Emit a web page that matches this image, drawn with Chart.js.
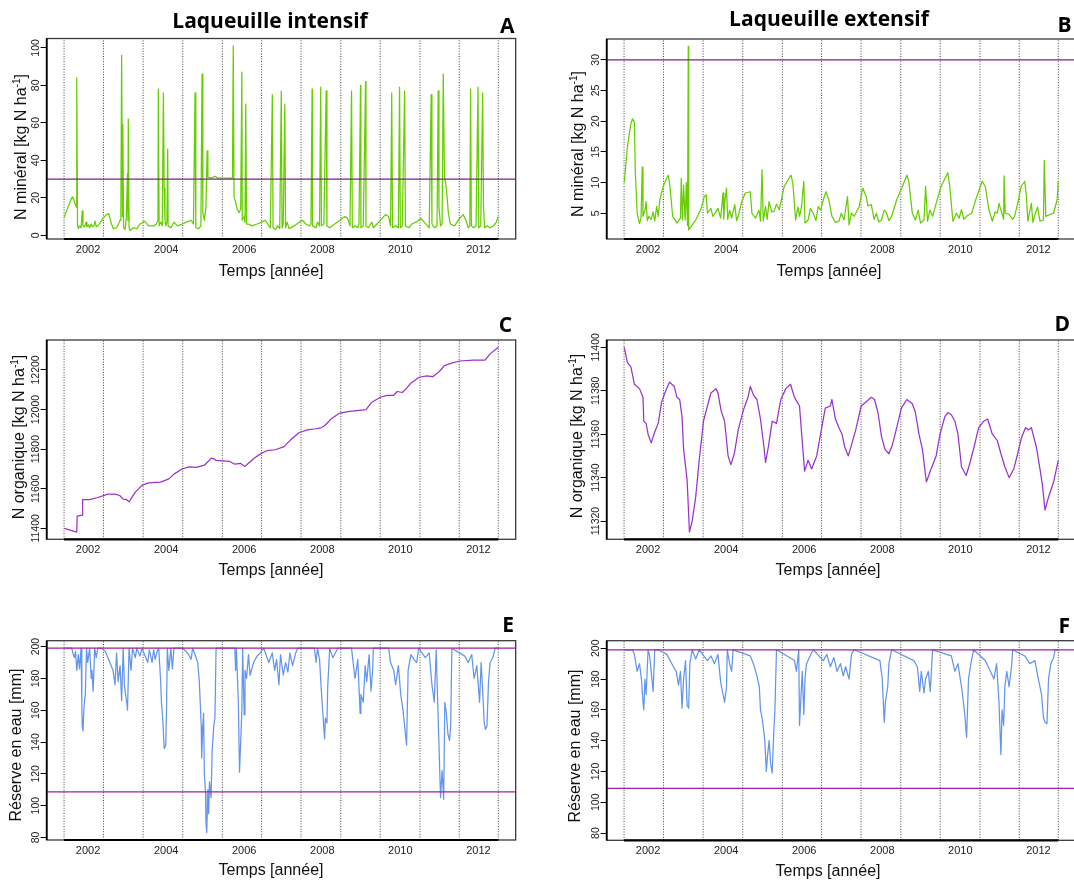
<!DOCTYPE html>
<html lang="fr">
<head>
<meta charset="utf-8">
<title>Laqueuille intensif / extensif</title>
<script src="https://cdn.jsdelivr.net/npm/chart.js@4.4.1/dist/chart.umd.min.js"></script>
<style>
  html, body { margin: 0; padding: 0; background: #fff; }
  body { width: 1074px; height: 881px; overflow: hidden; position: relative; font-family: "Liberation Sans", Arial, sans-serif; }
  canvas { position: absolute; }
  .main { position: absolute; white-space: nowrap; line-height: 1; font-family: "Open Sans", Lato, sans-serif; font-weight: bold; font-size: 21px; color: #000; transform: translate(-50%, -50%); }
  .letter { position: absolute; white-space: nowrap; line-height: 1; font-family: "Open Sans", Lato, sans-serif; font-weight: bold; font-size: 21px; color: #000; transform: translate(-100%, -50%); }
  .xt { position: absolute; white-space: nowrap; line-height: 1; font-size: 16px; color: #111; transform: translate(-50%, -50%); }
  .yt { position: absolute; white-space: nowrap; line-height: 1; font-size: 16px; color: #111; transform: translate(-50%, -50%) rotate(-90deg); }
  sup { font-size: 10px; line-height: 0; vertical-align: 6px; }
</style>
</head>
<body>
<canvas id="cA"></canvas>
<canvas id="cB"></canvas>
<canvas id="cC"></canvas>
<canvas id="cD"></canvas>
<canvas id="cE"></canvas>
<canvas id="cF"></canvas>

<div class="main" style="left:270px;top:19.6px">Laqueuille intensif</div>
<div class="main" style="left:829px;top:17.5px">Laqueuille extensif</div>
<div class="letter" style="left:514.5px;top:25.2px">A</div>
<div class="letter" style="left:1071.7px;top:23.6px">B</div>
<div class="letter" style="left:512.2px;top:323.6px">C</div>
<div class="letter" style="left:1070px;top:323.2px">D</div>
<div class="letter" style="left:513.9px;top:624.4px">E</div>
<div class="letter" style="left:1070px;top:625px">F</div>

<div class="xt" style="left:271px;top:271px">Temps [année]</div>
<div class="xt" style="left:829px;top:271px">Temps [année]</div>
<div class="xt" style="left:271px;top:570px">Temps [année]</div>
<div class="xt" style="left:828px;top:569.5px">Temps [année]</div>
<div class="xt" style="left:271px;top:870px">Temps [année]</div>
<div class="xt" style="left:828px;top:870.5px">Temps [année]</div>

<div class="yt" style="left:21px;top:147px">N minéral [kg N ha<sup>-1</sup>]</div>
<div class="yt" style="left:578.3px;top:144px">N minéral [kg N ha<sup>-1</sup>]</div>
<div class="yt" style="left:18.6px;top:437px">N organique [kg N ha<sup>-1</sup>]</div>
<div class="yt" style="left:577px;top:436px">N organique [kg N ha<sup>-1</sup>]</div>
<div class="yt" style="left:16.1px;top:744.5px">Réserve en eau [mm]</div>
<div class="yt" style="left:575px;top:746px">Réserve en eau [mm]</div>

<script>
// ---------------- DATA (decimal years / values) ----------------
const seasonLines = [2001.385, 2002.395, 2003.41, 2004.425, 2005.44, 2006.445, 2007.455, 2008.475, 2009.485, 2010.505, 2011.51, 2012.51];
const yearTicks = [2002, 2004, 2006, 2008, 2010, 2012];

const minTicksIntensif = [0, 20, 40, 60, 80, 100];
const minTicksExtensif = [5, 10, 15, 20, 25, 30];
const orgTicksIntensif = [11400, 11600, 11800, 12000, 12200];
const orgTicksExtensif = [11320, 11340, 11360, 11380, 11400];
const waterTicks = [80, 100, 120, 140, 160, 180, 200];

const minThreshold = [30];
const waterThresholdsIntensif = [199, 108.6];
const waterThresholdsExtensif = [199, 109];

// A : N minéral, Laqueuille intensif
const minIntensifYears = [
  2001.39,2001.47,2001.56,2001.60,2001.65,2001.68,2001.70,2001.71,2001.73,2001.75,
  2001.78,2001.82,2001.85,2001.87,2001.91,2001.95,2001.97,2002.01,2002.04,2002.08,
  2002.11,2002.15,2002.18,2002.21,2002.25,2002.32,2002.38,2002.47,2002.53,2002.60,
  2002.65,2002.73,2002.79,2002.82,2002.84,2002.86,2002.88,2002.89,2002.91,2002.95,
  2002.98,2003.01,2003.02,2003.03,2003.05,2003.08,2003.16,2003.25,2003.33,2003.45,
  2003.55,2003.68,2003.75,2003.79,2003.80,2003.82,2003.86,2003.90,2003.93,2003.95,
  2003.97,2003.99,2004.02,2004.04,2004.05,2004.12,2004.20,2004.29,2004.42,2004.52,
  2004.64,2004.70,2004.74,2004.76,2004.83,2004.89,2004.92,2004.94,2004.98,2005.02,
  2005.05,2005.07,2005.16,2005.25,2005.33,2005.46,2005.59,2005.70,2005.72,2005.74,
  2005.78,2005.82,2005.87,2005.91,2005.94,2005.95,2006.00,2006.02,2006.04,2006.06,
  2006.11,2006.20,2006.33,2006.45,2006.54,2006.63,2006.67,2006.72,2006.74,2006.80,
  2006.86,2006.91,2006.95,2006.97,2007.00,2007.04,2007.06,2007.10,2007.15,2007.28,
  2007.41,2007.49,2007.58,2007.67,2007.71,2007.74,2007.75,2007.84,2007.88,2007.93,
  2007.96,2007.98,2008.04,2008.10,2008.12,2008.19,2008.32,2008.45,2008.58,2008.65,
  2008.71,2008.75,2008.77,2008.84,2008.91,2008.94,2008.98,2008.99,2009.05,2009.11,
  2009.12,2009.18,2009.27,2009.31,2009.40,2009.49,2009.62,2009.70,2009.75,2009.78,
  2009.80,2009.88,2009.95,2009.98,2010.00,2010.05,2010.11,2010.13,2010.22,2010.29,
  2010.40,2010.53,2010.61,2010.70,2010.74,2010.79,2010.81,2010.87,2010.94,2010.97,
  2010.99,2011.03,2011.07,2011.10,2011.13,2011.18,2011.23,2011.28,2011.39,2011.52,
  2011.61,2011.68,2011.74,2011.78,2011.80,2011.82,2011.87,2011.94,2011.99,2012.01,
  2012.06,2012.11,2012.13,2012.16,2012.22,2012.30,2012.39,2012.46,2012.51
];
const minIntensif = [
  9.8,14,19,20.5,18,16,15,84,5,3.5,
  5,4,13,5,4.5,7,4.5,5.5,4,6,
  4.5,5,7.5,4.5,5,7,9,11,11.5,6,
  3.5,4,6.5,8,14,96,10,59,4,3,
  10,33,8,62,4,2.5,4,3.5,6,7.5,
  5,5,6,8,78,5,7,5,76,25,
  8,5,7,46,5,4,7,5,6,7,
  8,6,76,4,3.5,5,86,12,8,15,
  45,31,30.5,31.5,30.5,30.5,30.5,30.5,101,20,
  18,14,12,14,87,8,10,7,70,6,
  6,5,6,7,8,5,4,75,4,3,
  5,3.5,77,4,6,70,4,7,3.5,5,
  7,8,6,5,6,78,5,4,7,5,
  79,5,6,77,5,4,6,8,10,9,
  5,77,4,5,4,6,80,4,5,82,
  5,4,7,4,6,8,11,10,5,76,
  4,5,4,79,4,5,77,5,4,6,
  7,9,7,5,4,75,6,4,5,77,
  15,5,6,86,32,25,12,6,5,9,
  11,8,4,5,78,5,4,5,79,4,
  5,76,15,4,5,4,5,7,10
];

// B : N minéral, Laqueuille extensif
const minExtensifYears = [
  2001.39,2001.47,2001.56,2001.60,2001.65,2001.67,2001.72,2001.78,2001.82,2001.85,
  2001.87,2001.92,2001.95,2001.98,2002.02,2002.08,2002.13,2002.17,2002.22,2002.26,
  2002.30,2002.39,2002.46,2002.52,2002.56,2002.63,2002.70,2002.74,2002.83,2002.85,
  2002.88,2002.91,2002.95,2002.98,2003.01,2003.03,2003.04,2003.11,2003.18,2003.22,
  2003.35,2003.44,2003.49,2003.52,2003.61,2003.66,2003.72,2003.79,2003.86,2003.92,
  2003.94,2003.96,2004.01,2004.04,2004.09,2004.14,2004.22,2004.27,2004.31,2004.40,
  2004.49,2004.62,2004.66,2004.75,2004.84,2004.88,2004.92,2004.95,2005.01,2005.05,
  2005.10,2005.17,2005.23,2005.29,2005.36,2005.49,2005.66,2005.71,2005.78,2005.84,
  2005.88,2005.93,2005.99,2006.02,2006.10,2006.16,2006.23,2006.30,2006.36,2006.42,
  2006.49,2006.56,2006.63,2006.71,2006.80,2006.89,2006.95,2007.02,2007.11,2007.15,
  2007.21,2007.28,2007.41,2007.50,2007.59,2007.63,2007.72,2007.79,2007.85,2007.91,
  2007.98,2008.05,2008.11,2008.17,2008.24,2008.37,2008.50,2008.63,2008.68,2008.77,
  2008.85,2008.92,2008.98,2009.07,2009.11,2009.16,2009.22,2009.29,2009.38,2009.51,
  2009.68,2009.73,2009.81,2009.90,2009.97,2010.03,2010.09,2010.16,2010.29,2010.42,
  2010.56,2010.64,2010.73,2010.82,2010.89,2010.95,2010.99,2011.11,2011.12,2011.15,
  2011.25,2011.34,2011.39,2011.47,2011.56,2011.65,2011.69,2011.73,2011.82,2011.86,
  2011.91,2011.98,2012.04,2012.13,2012.15,2012.19,2012.30,2012.39,2012.48,2012.51
];
const minExtensif = [
  10,15.8,19.6,20.4,19.9,12.3,5.0,3.3,4.2,12.5,
  4.5,5.5,6.9,3.8,4.5,4.0,5.2,3.7,6.1,4.5,
  7.2,9.4,10.5,11.2,9.4,4.5,3.8,3.4,4.2,10.7,
  3.9,9.6,3.9,10.0,3.0,32.2,2.3,2.9,3.5,3.9,
  5.6,7.7,8.0,5.0,5.8,4.5,5.0,5.8,4.2,8.3,
  4.0,6.5,9.1,4.0,5.5,4.2,6.4,3.8,4.5,6.9,
  8.3,8.5,5.0,4.2,5.5,3.7,12.1,3.7,6.1,4.0,
  6.9,5.2,5.3,6.5,5.6,9.4,11.2,9.9,3.9,6.0,
  4.5,6.1,10.2,3.4,3.9,5.8,5.0,3.8,6.1,5.5,
  7.2,8.5,7.2,4.5,3.5,3.7,5.0,3.9,7.7,3.1,
  5.0,4.5,6.1,9.1,7.7,6.2,6.4,4.0,5.0,3.6,
  3.9,5.5,5.0,3.8,4.5,7.2,9.1,11.2,10.2,5.0,
  3.9,5.5,3.4,3.9,9.4,3.7,5.5,4.5,6.6,9.4,
  11.6,9.4,3.7,5.0,4.2,5.6,4.0,4.5,5.0,7.7,
  10.2,9.4,5.6,3.7,5.2,5.0,6.6,4.0,11.1,5.0,
  4.8,4.0,4.5,6.6,9.4,10.2,8.0,3.7,6.6,3.5,
  4.8,6.0,3.7,3.9,13.6,4.5,4.8,5.0,7.2,10.2
];

// C : N organique, Laqueuille intensif
const orgIntensifYears = [
  2001.39,2001.71,2001.72,2001.85,2001.86,2002.04,2002.25,2002.51,2002.69,2002.81,
  2002.90,2002.99,2003.05,2003.21,2003.38,2003.55,2003.86,2004.07,2004.20,2004.42,
  2004.59,2004.77,2004.98,2005.16,2005.24,2005.28,2005.63,2005.76,2005.91,2006.02,
  2006.11,2006.28,2006.45,2006.58,2006.80,2007.02,2007.19,2007.41,2007.62,2007.84,
  2007.97,2008.06,2008.23,2008.45,2008.66,2008.88,2009.12,2009.27,2009.49,2009.66,
  2009.83,2009.92,2010.05,2010.14,2010.27,2010.48,2010.68,2010.83,2011.00,2011.13,
  2011.31,2011.52,2011.87,2012.17,2012.30,2012.51
];
const orgIntensif = [
  11400,11381,11462,11467,11545,11545,11556,11573,11573,11566,
  11548,11545,11534,11583,11617,11630,11634,11650,11674,11701,
  11711,11708,11719,11755,11750,11743,11738,11724,11728,11713,
  11729,11758,11780,11792,11797,11813,11847,11884,11897,11903,
  11908,11918,11953,11982,11990,11995,12000,12037,12062,12071,
  12072,12091,12086,12103,12133,12163,12170,12166,12192,12222,
  12234,12245,12250,12249,12281,12314
];

// D : N organique, Laqueuille extensif
const orgExtensifYears = [
  2001.39,2001.47,2001.56,2001.65,2001.78,2001.87,2001.89,2001.95,2002.00,2002.08,
  2002.17,2002.26,2002.35,2002.43,2002.55,2002.67,2002.74,2002.81,2002.87,2002.91,
  2003.00,2003.06,2003.13,2003.22,2003.31,2003.42,2003.52,2003.61,2003.74,2003.79,
  2003.87,2003.96,2004.05,2004.12,2004.21,2004.31,2004.44,2004.56,2004.62,2004.70,
  2004.79,2004.88,2004.97,2005.01,2005.08,2005.18,2005.29,2005.40,2005.53,2005.65,
  2005.75,2005.88,2005.94,2006.01,2006.10,2006.19,2006.32,2006.45,2006.54,2006.67,
  2006.71,2006.80,2006.89,2006.97,2007.04,2007.13,2007.21,2007.32,2007.46,2007.59,
  2007.72,2007.80,2007.89,2007.98,2008.07,2008.17,2008.26,2008.37,2008.49,2008.63,
  2008.77,2008.85,2008.94,2009.03,2009.13,2009.25,2009.38,2009.48,2009.60,2009.68,
  2009.77,2009.86,2009.94,2010.03,2010.15,2010.25,2010.35,2010.47,2010.60,2010.70,
  2010.82,2010.95,2011.04,2011.14,2011.25,2011.37,2011.47,2011.56,2011.67,2011.75,
  2011.82,2011.95,2012.04,2012.10,2012.17,2012.26,2012.39,2012.51
];
const orgExtensif = [
  11400,11393,11391,11383,11381,11377,11366,11365,11360,11356,
  11361,11365,11375,11379,11384,11382,11377,11376,11368,11353,
  11339,11315,11320,11331,11348,11366,11373,11379,11381,11379,
  11371,11366,11350,11346,11351,11362,11371,11377,11382,11378,
  11376,11367,11354,11347,11354,11366,11365,11376,11381,11383,
  11377,11373,11359,11343,11348,11344,11350,11363,11372,11373,
  11376,11367,11363,11360,11354,11350,11355,11362,11373,11375,
  11377,11376,11370,11359,11353,11351,11355,11363,11372,11376,
  11374,11370,11360,11353,11338,11344,11350,11360,11368,11370,
  11369,11366,11360,11345,11341,11347,11354,11363,11366,11367,
  11360,11357,11351,11345,11340,11344,11351,11358,11363,11362,
  11363,11354,11344,11337,11325,11331,11338,11348
];

// E : Réserve en eau, Laqueuille intensif
const waterIntensifYears = [
  2001.39,2001.58,2001.61,2001.65,2001.68,2001.71,2001.75,2001.78,2001.82,2001.84,
  2001.85,2001.87,2001.89,2001.91,2001.93,2001.96,2001.99,2002.04,2002.08,2002.10,
  2002.13,2002.17,2002.21,2002.25,2002.34,2002.44,2002.56,2002.64,2002.69,2002.73,
  2002.77,2002.82,2002.86,2002.90,2002.93,2002.96,2002.99,2003.01,2003.05,2003.10,
  2003.14,2003.21,2003.25,2003.33,2003.38,2003.53,2003.57,2003.64,2003.68,2003.72,
  2003.77,2003.81,2003.86,2003.88,2003.92,2003.95,2003.99,2004.01,2004.03,2004.07,
  2004.12,2004.16,2004.20,2004.42,2004.55,2004.64,2004.68,2004.81,2004.85,2004.90,
  2004.91,2004.94,2004.96,2004.98,2005.01,2005.02,2005.04,2005.07,2005.09,2005.11,
  2005.15,2005.18,2005.22,2005.25,2005.28,2005.76,2005.78,2005.80,2005.85,2005.88,
  2005.91,2005.94,2005.96,2006.00,2006.02,2006.06,2006.11,2006.15,2006.24,2006.33,
  2006.41,2006.50,2006.63,2006.72,2006.78,2006.83,2006.89,2006.93,2007.00,2007.06,
  2007.12,2007.17,2007.24,2007.32,2007.37,2007.80,2007.84,2007.88,2007.93,2007.97,
  2008.01,2008.06,2008.08,2008.12,2008.14,2008.19,2008.27,2008.40,2008.75,2008.79,
  2008.84,2008.91,2008.97,2008.99,2009.05,2009.10,2009.14,2009.20,2009.25,2009.29,
  2009.31,2009.70,2009.75,2009.83,2009.88,2009.95,2010.01,2010.07,2010.11,2010.16,
  2010.20,2010.27,2010.35,2010.42,2010.47,2010.64,2010.74,2010.81,2010.87,2010.92,
  2010.94,2011.00,2011.03,2011.07,2011.11,2011.14,2011.18,2011.22,2011.26,2011.29,
  2011.32,2011.65,2011.74,2011.83,2011.89,2011.96,2012.03,2012.07,2012.11,2012.15,
  2012.18,2012.22,2012.26,2012.30,2012.37,2012.43,2012.51
];
const waterIntensif = [
  199,199,196,193,197,185,195,186,199,165,
  150,147,160,166,170,199,190,199,180,185,
  172,199,193,199,199,197,190,185,176,196,
  178,188,166,199,176,170,165,160,199,185,
  199,193,199,194,199,190,198,190,198,192,
  197,199,178,165,152,136,138,160,199,185,
  199,186,199,199,196,192,199,190,178,150,
  130,150,158,120,108,90,83,110,95,115,
  105,135,150,155,199,199,185,199,165,121,
  140,160,199,157,185,180,195,182,190,194,
  196,199,190,196,185,192,176,195,182,190,
  184,196,188,196,199,199,190,199,192,175,
  160,142,155,152,175,199,193,199,199,190,
  180,192,158,170,165,188,178,195,172,185,
  199,199,190,185,176,188,170,160,150,138,
  185,195,192,190,199,193,196,176,165,198,
  180,130,105,122,104,165,158,145,141,150,
  199,194,190,195,180,188,165,190,172,152,
  148,150,178,190,193,199,199
];

// F : Réserve en eau, Laqueuille extensif
const waterExtensifYears = [
  2001.39,2001.60,2001.65,2001.72,2001.78,2001.83,2001.87,2001.89,2001.92,2001.95,
  2002.00,2002.04,2002.08,2002.13,2002.17,2002.26,2002.48,2002.65,2002.72,2002.78,
  2002.83,2002.87,2002.91,2002.96,2003.00,2003.04,2003.07,2003.13,2003.22,2003.31,
  2003.52,2003.61,2003.70,2003.79,2003.86,2003.92,2003.96,2004.01,2004.03,2004.09,
  2004.14,2004.18,2004.62,2004.70,2004.79,2004.85,2004.88,2004.92,2004.97,2004.99,
  2005.03,2005.06,2005.10,2005.14,2005.18,2005.22,2005.25,2005.29,2005.75,2005.80,
  2005.86,2005.88,2005.91,2005.95,2005.99,2006.02,2006.06,2006.15,2006.23,2006.49,
  2006.58,2006.67,2006.76,2006.84,2006.93,2007.00,2007.06,2007.15,2007.21,2007.28,
  2007.94,2008.00,2008.05,2008.08,2008.14,2008.17,2008.24,2008.81,2008.90,2008.96,
  2009.00,2009.07,2009.11,2009.18,2009.23,2009.29,2009.77,2009.86,2009.94,2010.03,
  2010.08,2010.12,2010.16,2010.21,2010.27,2010.34,2010.64,2010.77,2010.86,2010.93,
  2010.99,2011.04,2011.07,2011.11,2011.14,2011.19,2011.25,2011.32,2011.34,2011.65,
  2011.78,2011.91,2012.00,2012.08,2012.13,2012.17,2012.22,2012.26,2012.32,2012.39,
  2012.43,2012.51
];
const waterExtensif = [
  199,199,196,185,190,180,165,160,180,170,
  199,195,185,172,199,199,196,188,185,176,
  185,161,180,192,163,161,190,199,193,199,
  192,195,190,196,178,170,165,175,199,190,
  185,199,195,190,182,175,160,155,145,140,
  120,130,140,125,119,145,160,199,192,185,
  199,150,165,185,157,180,190,195,199,192,
  196,188,194,185,190,182,188,180,196,199,
  192,180,152,165,175,190,199,192,188,172,
  185,171,180,185,172,199,195,185,190,175,
  165,155,142,180,190,199,192,185,180,190,
  165,131,160,150,175,185,175,190,199,195,
  190,192,180,170,155,152,151,180,190,194,
  199,199
];

// ---------------- CHART CONSTRUCTION ----------------
const X_MIN = 2000.94, X_MAX = 2012.956;

function xy(xs, ys, name) {
  if (xs.length !== ys.length) throw new Error('length mismatch in ' + name + ': ' + xs.length + ' vs ' + ys.length);
  return xs.map((x, i) => ({ x: x, y: ys[i] }));
}

const framePlugin = {
  id: 'rframe',
  afterDraw(chart) {
    const { ctx, chartArea: a, scales } = chart;
    const xs = scales.x, ys = scales.y;
    ctx.save();
    ctx.strokeStyle = '#3a3a3a';
    ctx.lineWidth = 1.3;
    ctx.strokeRect(a.left, a.top, a.right - a.left, a.bottom - a.top);
    ctx.strokeStyle = '#000';
    ctx.lineWidth = 2.2;
    ctx.beginPath();
    ctx.moveTo(xs.getPixelForValue(seasonLines[0]), a.bottom);
    ctx.lineTo(xs.getPixelForValue(seasonLines[seasonLines.length - 1]), a.bottom);
    ctx.stroke();
    ctx.lineWidth = 1.8;
    ctx.beginPath();
    ctx.moveTo(a.left, a.top);
    ctx.lineTo(a.left, a.bottom);
    ctx.stroke();
    ctx.fillStyle = '#222';
    ctx.font = '10.5px "Liberation Sans", Arial, sans-serif';
    ctx.textAlign = 'center';
    ctx.textBaseline = 'alphabetic';
    ys.ticks.forEach(t => {
      const py = ys.getPixelForValue(t.value);
      ctx.save();
      ctx.translate(a.left - 8, py);
      ctx.rotate(-Math.PI / 2);
      ctx.fillText(String(t.value), 0, 0);
      ctx.restore();
    });
    ctx.restore();
  }
};

function makePanel(p) {
  const c = document.getElementById(p.id);
  const L = p.layout;
  c.width = L.cw; c.height = L.ch;
  c.style.left = L.cx + 'px'; c.style.top = L.cy + 'px';
  c.style.width = L.cw + 'px'; c.style.height = L.ch + 'px';
  const yAxisW = L.boxL - L.cx;
  const xAxisH = 22;
  const padTop = L.boxT - L.cy;
  const padRight = L.cw - (L.boxR - L.cx);
  const padBottom = L.ch - (L.boxB - L.cy) - xAxisH;

  const vlines = [];
  seasonLines.forEach(v => { vlines.push({ x: v, y: p.ymin }, { x: v, y: p.ymax }, { x: v, y: null }); });

  const datasets = [];
  p.hlines.forEach(h => datasets.push({
    data: [{ x: X_MIN, y: h }, { x: X_MAX, y: h }],
    borderColor: p.hColor, borderWidth: 1.3, pointRadius: 0
  }));
  datasets.push({
    data: xy(p.xs, p.ys, p.id), borderColor: p.color, borderWidth: 1.25,
    pointRadius: 0, borderJoinStyle: 'round', tension: 0
  });
  datasets.push({
    data: vlines, borderColor: '#444', borderWidth: 1, borderDash: [1, 1.6],
    pointRadius: 0, spanGaps: false
  });

  new Chart(c, {
    type: 'line',
    data: { datasets },
    plugins: [framePlugin],
    options: {
      responsive: false, animation: false, devicePixelRatio: 1, events: [],
      layout: { padding: { left: 0, right: padRight, top: padTop, bottom: padBottom } },
      plugins: { legend: { display: false }, tooltip: { enabled: false }, title: { display: false } },
      scales: {
        x: {
          type: 'linear', min: X_MIN, max: X_MAX,
          afterBuildTicks: s => { s.ticks = yearTicks.map(v => ({ value: v })); },
          afterFit: s => { s.height = xAxisH; },
          grid: { display: false, drawTicks: false },
          border: { display: false },
          ticks: {
            padding: 4.5, autoSkip: false, maxRotation: 0, minRotation: 0, color: '#222',
            font: { family: 'Liberation Sans', size: 11 },
            callback: v => String(v)
          }
        },
        y: {
          type: 'linear', min: p.ymin, max: p.ymax,
          afterBuildTicks: s => { s.ticks = p.yTicks.map(v => ({ value: v })); },
          afterFit: s => { s.width = yAxisW; },
          grid: { display: true, drawOnChartArea: false, drawTicks: true, tickLength: 6, color: '#000', lineWidth: 1 },
          border: { display: false },
          ticks: { display: false }
        }
      }
    }
  });
}

const leftCol = { cx: 0, cw: 537, boxL: 46.7, boxR: 515.7 };
const rightCol = { cx: 560, cw: 537, boxL: 606.7, boxR: 1075.7 };

const panels = [
  { id: 'cA', xs: minIntensifYears, ys: minIntensif, color: '#66CD00', ymin: -2.0, ymax: 105.0,
    yTicks: minTicksIntensif, hlines: minThreshold, hColor: '#7E1F8C',
    layout: Object.assign({}, leftCol, { cy: 0, ch: 295, boxT: 38.5, boxB: 239 }) },
  { id: 'cB', xs: minExtensifYears, ys: minExtensif, color: '#66CD00', ymin: 0.8, ymax: 33.4,
    yTicks: minTicksExtensif, hlines: minThreshold, hColor: '#7E1F8C',
    layout: Object.assign({}, rightCol, { cy: 0, ch: 295, boxT: 39, boxB: 239 }) },
  { id: 'cC', xs: orgIntensifYears, ys: orgIntensif, color: '#9A32CD', ymin: 11345, ymax: 12351,
    yTicks: orgTicksIntensif, hlines: [], hColor: '#7E1F8C',
    layout: Object.assign({}, leftCol, { cy: 295, ch: 295, boxT: 340, boxB: 539.3 }) },
  { id: 'cD', xs: orgExtensifYears, ys: orgExtensif, color: '#9A32CD', ymin: 11311.6, ymax: 11403.4,
    yTicks: orgTicksExtensif, hlines: [], hColor: '#7E1F8C',
    layout: Object.assign({}, rightCol, { cy: 295, ch: 295, boxT: 340, boxB: 539.3 }) },
  { id: 'cE', xs: waterIntensifYears, ys: waterIntensif, color: '#6495ED', ymin: 78.4, ymax: 203.7,
    yTicks: waterTicks, hlines: waterThresholdsIntensif, hColor: '#A0219F',
    layout: Object.assign({}, leftCol, { cy: 590, ch: 291, boxT: 640.7, boxB: 840 }) },
  { id: 'cF', xs: waterExtensifYears, ys: waterExtensif, color: '#6495ED', ymin: 75.3, ymax: 204.9,
    yTicks: waterTicks, hlines: waterThresholdsExtensif, hColor: '#A0219F',
    layout: Object.assign({}, rightCol, { cy: 590, ch: 291, boxT: 640.7, boxB: 840.3 }) }
];

panels.forEach(makePanel);
</script>
</body>
</html>
